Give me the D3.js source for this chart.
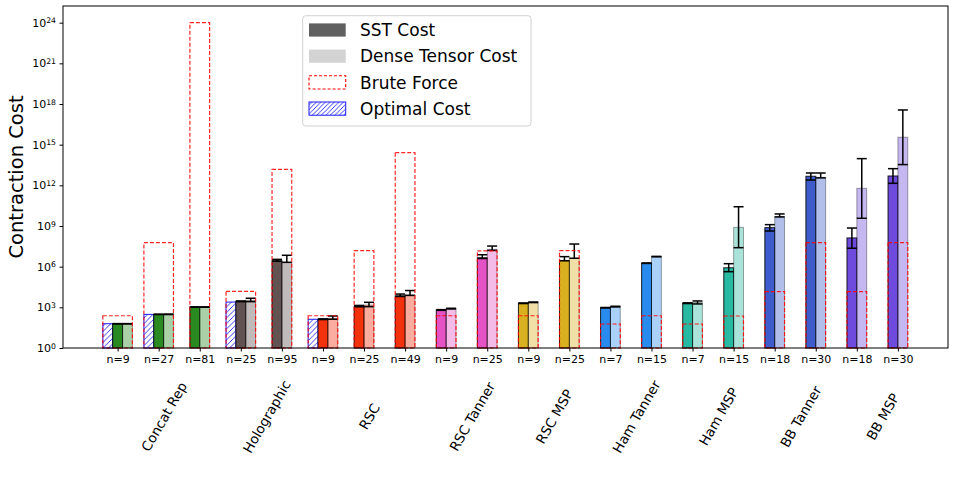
<!DOCTYPE html>
<html>
<head>
<meta charset="utf-8">
<script src="https://cdn.jsdelivr.net/npm/d3@7"></script>
<style>
  body { margin: 0; background: #fff; }
  svg { font-family: "DejaVu Sans", sans-serif; }
</style>
</head>
<body>
<svg id="chart" width="955" height="499"></svg>
<script>
// categories and their colours
const categories = ["Concat Rep", "Holographic", "RSC", "RSC Tanner", "RSC MSP", "Ham Tanner", "Ham MSP", "BB Tanner", "BB MSP"];
const catColors = ["#2a8a22", "#635252", "#f2320c", "#e452c6", "#d9b020", "#2a8bef", "#27b9a1", "#3e5ccb", "#6e4bdc"];

// one entry per bar group (tick)
const groupCat = [0, 0, 0, 1, 1, 2, 2, 2, 3, 3, 4, 4, 5, 5, 6, 6, 7, 7, 8, 8];
const nLabels = ["n=9", "n=27", "n=81", "n=25", "n=95", "n=9", "n=25", "n=49", "n=9", "n=25",
                 "n=9", "n=25", "n=7", "n=15", "n=7", "n=15", "n=18", "n=30", "n=18", "n=30"];

// values as log10(cost)
const sstLog   = [1.79, 2.48, 3.02, 3.44, 6.44, 2.12, 3.08, 3.85, 2.80, 6.66, 3.30, 6.44, 2.97, 6.25, 3.30, 5.92, 8.88, 12.67, 8.12, 12.69];
const sstLo    = [1.78, 2.47, 3.01, 3.42, 6.40, 2.10, 3.04, 3.80, 2.78, 6.60, 3.28, 6.44, 2.96, 6.24, 3.28, 5.63, 8.63, 12.39, 7.36, 12.15];
const sstHi    = [1.80, 2.49, 3.03, 3.47, 6.54, 2.15, 3.14, 3.98, 2.83, 6.88, 3.32, 6.74, 2.99, 6.27, 3.33, 6.22, 9.10, 12.91, 8.85, 13.23];
const denseLog = [1.79, 2.48, 3.02, 3.52, 6.32, 2.19, 3.17, 3.91, 2.90, 7.28, 3.37, 6.62, 3.05, 6.74, 3.35, 8.90, 9.69, 12.59, 11.78, 15.55];
const denseLo  = [1.78, 2.47, 3.01, 3.42, 6.32, 2.12, 3.05, 3.88, 2.88, 7.20, 3.35, 6.62, 3.03, 6.73, 3.25, 7.40, 9.67, 12.55, 9.57, 13.53];
const denseHi  = [1.80, 2.50, 3.03, 3.67, 6.84, 2.36, 3.37, 4.24, 2.93, 7.52, 3.39, 7.67, 3.08, 6.76, 3.47, 10.42, 9.89, 12.91, 13.97, 17.56];
const bruteLog = [2.38, 7.77, 24.0, 4.18, 13.18, 2.38, 7.18, 14.41, 2.38, 7.16, 2.38, 7.18, 1.77, 2.38, 1.77, 2.36, 4.16, 7.77, 4.16, 7.77];
const optLog   = [1.79, 2.48, null, 3.39, null, 2.12, null, null, null, null, null, null, null, null, null, null, null, null, null, null];

const yTickExp = [0, 3, 6, 9, 12, 15, 18, 21, 24];
const legendItems = ["SST Cost", "Dense Tensor Cost", "Brute Force", "Optimal Cost"];

const svg = d3.select("#chart");
const plotL = 63, plotR = 948, plotT = 6, plotB = 348;

const x = d3.scaleLinear().domain([-1.33, 20.22]).range([plotL, plotR]);
const y = d3.scaleLog().domain([1, Math.pow(10, 25.23)]).range([plotB, plotT]);
const p10 = e => Math.pow(10, e);
const bw = 0.24;

// hatch patterns
const defs = svg.append("defs");
function hatch(id, size) {
  const p = defs.append("pattern").attr("id", id).attr("patternUnits", "userSpaceOnUse")
    .attr("width", size).attr("height", size);
  p.append("rect").attr("width", size).attr("height", size).attr("fill", "white");
  p.append("path").attr("d", `M0,${size} L${size},0 M${-size / 2},${size / 2} L${size / 2},${-size / 2} M${size / 2},${size * 1.5} L${size * 1.5},${size / 2}`)
    .attr("stroke", "#2020ff").attr("stroke-width", 0.9);
}
hatch("hatch", 5.5);
hatch("hatchLeg", 4.5);

// build bar layout
const groups = nLabels.map((lab, i) => {
  const hasOpt = optLog[i] != null;
  const x0 = hasOpt ? i - 1.5 * bw : i - bw;
  return { i, hasOpt, x0, x1: hasOpt ? i + 1.5 * bw : i + bw, color: catColors[groupCat[i]] };
});

const plot = svg.append("g");

// optimal (hatched)
plot.selectAll(".opt").data(groups.filter(g => g.hasOpt)).enter().append("rect")
  .attr("x", g => x(g.x0)).attr("width", g => x(g.x0 + bw) - x(g.x0))
  .attr("y", g => y(p10(optLog[g.i]))).attr("height", g => plotB - y(p10(optLog[g.i])))
  .attr("fill", "url(#hatch)").attr("stroke", "#1a1aff").attr("stroke-width", 1);

function sstX(g) { return g.hasOpt ? g.x0 + bw : g.x0; }

// SST bars
plot.selectAll(".sst").data(groups).enter().append("rect")
  .attr("x", g => x(sstX(g))).attr("width", g => x(sstX(g) + bw) - x(sstX(g)))
  .attr("y", g => y(p10(sstLog[g.i]))).attr("height", g => plotB - y(p10(sstLog[g.i])))
  .attr("fill", g => g.color).attr("stroke", "#000").attr("stroke-opacity", 0.85).attr("stroke-width", 1);

// dense bars
plot.selectAll(".dense").data(groups).enter().append("rect")
  .attr("x", g => x(sstX(g) + bw)).attr("width", g => x(sstX(g) + 2 * bw) - x(sstX(g) + bw))
  .attr("y", g => y(p10(denseLog[g.i]))).attr("height", g => plotB - y(p10(denseLog[g.i])))
  .attr("fill", g => g.color).attr("fill-opacity", 0.4)
  .attr("stroke", "#000").attr("stroke-opacity", 0.35).attr("stroke-width", 1);

// error bars
function errbars(cls, cxf, lo, hi) {
  const eb = plot.selectAll("." + cls).data(groups).enter().append("g")
    .attr("stroke", "#000").attr("stroke-width", 1.5);
  eb.append("line").attr("x1", g => cxf(g)).attr("x2", g => cxf(g))
    .attr("y1", g => y(p10(lo[g.i]))).attr("y2", g => y(p10(hi[g.i])));
  eb.append("line").attr("x1", g => cxf(g) - 5).attr("x2", g => cxf(g) + 5)
    .attr("y1", g => y(p10(lo[g.i]))).attr("y2", g => y(p10(lo[g.i])));
  eb.append("line").attr("x1", g => cxf(g) - 5).attr("x2", g => cxf(g) + 5)
    .attr("y1", g => y(p10(hi[g.i]))).attr("y2", g => y(p10(hi[g.i])));
}
errbars("esst", g => x(sstX(g) + bw / 2), sstLo, sstHi);
errbars("edense", g => x(sstX(g) + 1.5 * bw), denseLo, denseHi);

// brute force outline
plot.selectAll(".brute").data(groups).enter().append("rect")
  .attr("x", g => x(g.x0)).attr("width", g => x(g.x1) - x(g.x0))
  .attr("y", g => y(p10(bruteLog[g.i]))).attr("height", g => plotB - y(p10(bruteLog[g.i])))
  .attr("fill", "none").attr("stroke", "#ff0000").attr("stroke-opacity", 0.85)
  .attr("stroke-width", 1.2).attr("stroke-dasharray", "4,2");

// axes
const xAxis = svg.append("g").attr("transform", `translate(0,${plotB})`)
  .call(d3.axisBottom(x).tickValues(d3.range(nLabels.length)).tickSize(3.5).tickPadding(4)
    .tickFormat(i => nLabels[i]));
xAxis.selectAll("text").attr("font-size", 11).attr("fill", "#000").attr("font-family", "DejaVu Sans");
xAxis.select(".domain").remove();

const yAxis = svg.append("g").attr("transform", `translate(${plotL},0)`)
  .call(d3.axisLeft(y).tickValues(yTickExp.map(p10)).tickSize(3.5).tickFormat(""));
yAxis.select(".domain").remove();
yAxis.selectAll(".tick").each(function (d, k) {
  const t = d3.select(this).append("text").attr("x", -7).attr("dy", "0.32em")
    .attr("text-anchor", "end").attr("fill", "#000").attr("font-size", 11).attr("font-family", "DejaVu Sans");
  t.append("tspan").text("10");
  t.append("tspan").attr("dy", "-0.45em").attr("font-size", 7.7).text(yTickExp[k]);
});

svg.append("rect").attr("x", plotL).attr("y", plotT).attr("width", plotR - plotL).attr("height", plotB - plotT)
  .attr("fill", "none").attr("stroke", "#000").attr("stroke-width", 1);

// y label
svg.append("text").attr("transform", "translate(23,177) rotate(-90)").attr("text-anchor", "middle")
  .attr("font-size", 19.5).text("Contraction Cost");

// category labels (rotated)
categories.forEach((c, k) => {
  const idx = groupCat.map((g, i) => g === k ? i : -1).filter(i => i >= 0);
  const cx = x(d3.mean(idx) + 0.13);
  svg.append("text").attr("transform", `translate(${cx},416.5) rotate(-60)`)
    .attr("text-anchor", "middle").attr("dominant-baseline", "central")
    .attr("font-size", 13.5).text(c);
});

// legend
const leg = svg.append("g");
leg.append("rect").attr("x", 302.7).attr("y", 15.7).attr("width", 228.3).attr("height", 110.3).attr("rx", 3)
  .attr("fill", "white").attr("fill-opacity", 0.8).attr("stroke", "#d0d0d0");
legendItems.forEach((name, k) => {
  const cy = 30 + k * 26.2;
  const r = leg.append("rect").attr("x", 309).attr("y", cy - 6.6).attr("width", 36.7).attr("height", 13.2);
  if (k === 0) r.attr("fill", "#606060");
  else if (k === 1) r.attr("fill", "#d3d3d3");
  else if (k === 2) r.attr("fill", "white").attr("stroke", "red").attr("stroke-width", 1.1).attr("stroke-dasharray", "3,2");
  else r.attr("fill", "url(#hatchLeg)").attr("stroke", "#1a1aff").attr("stroke-width", 1);
  leg.append("text").attr("x", 360).attr("y", cy).attr("dy", "0.36em").attr("font-size", 17).text(name);
});
</script>
</body>
</html>
